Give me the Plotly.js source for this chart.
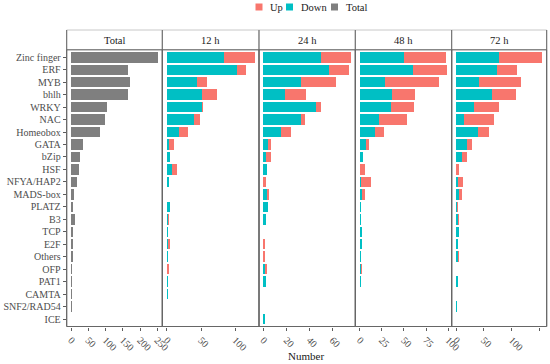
<!DOCTYPE html>
<html>
<head>
<meta charset="utf-8">
<script src="https://cdn.plot.ly/plotly-3.0.1.min.js"></script>
<style>html,body{margin:0;padding:0;background:#fff;}#chart{width:550px;height:364px;}</style>
</head>
<body>
<div id="chart"></div>
<script>
// ---- data ----
const categories = ["Zinc finger","ERF","MYB","bhlh","WRKY","NAC","Homeobox","GATA","bZip","HSF","NFYA/HAP2","MADS-box","PLATZ","B3","TCP","E2F","Others","OFP","PAT1","CAMTA","SNF2/RAD54","ICE"];
const totalCount = [252,166,171,166,104,97,85,35,25,22,18,10,6,11,6,6,7,2,2,3,2,1];
const down12 = [83,102,44,51,52,40,18,4,5,7,3,1,5,2,2,2,2,1,2,2,0,1];
const up12   = [45,14,15,22,1,8,13,7,0,8,1,0,0,2,0,3,0,2,0,0,0,0];
const down24 = [50,57,33,19,46,33,15,4,2,3,0,3,4,2,0,0,0,1,2,0,0,1];
const up24   = [26,17,30,18,4,3,9,3,5,0,2,2,0,0,0,1,1,2,0,0,0,0];
const down48 = [50,60,29,37,35,22,17,7,4,0,2,3,1,1,3,3,1,1,2,0,0,0];
const up48   = [47,39,61,25,26,31,11,4,0,6,11,3,1,1,0,0,1,2,0,0,0,0];
const down72 = [77,73,41,65,33,15,39,19,11,0,3,5,1,3,5,3,3,0,3,0,1,0];
const up72   = [78,37,76,43,44,54,21,10,8,6,10,5,2,3,0,0,3,0,0,0,1,0];
const panelTitles = ["Total","12 h","24 h","48 h","72 h"];
const tickSets = [[0,50,100,150,200,250],[0,50,100],[0,20,40,60],[0,25,50,75,100],[0,50,100,150]];
const legendNames = ["Up","Down","Total"];

// ---- styling ----
const colUp = "#F8766D", colDown = "#00BFC4", colTotal = "#7F7F7F";
const FONT = "Liberation Serif";
const W = 550, H = 364;
const px = x => x / W, py = y => 1 - y / H;
const edges = [66.7, 162.3, 259, 355.3, 451.7, 546.7];
const plotTop = 49.8, plotBot = 326.5, stripTop = 30;

const timeDown = [down12, down24, down48, down72];
const timeUp = [up12, up24, up48, up72];

const traces = [];
traces.push({type:"bar", orientation:"h", y:categories, x:totalCount, xaxis:"x", yaxis:"y",
  marker:{color:colTotal}, name:"Total", showlegend:false, hoverinfo:"x+y"});
for (let i = 0; i < 4; i++) {
  const ax = String(i + 2);
  traces.push({type:"bar", orientation:"h", y:categories, x:timeDown[i], xaxis:"x"+ax, yaxis:"y"+ax,
    marker:{color:colDown}, name:"Down", showlegend:false});
  traces.push({type:"bar", orientation:"h", y:categories, x:timeUp[i], xaxis:"x"+ax, yaxis:"y"+ax,
    marker:{color:colUp}, name:"Up", showlegend:false});
}

function xRange(vals) {
  const m = Math.max(...vals);
  return [-0.05 * m, 1.05 * m];
}
const panelMax = [totalCount];
for (let i = 0; i < 4; i++) panelMax.push(timeDown[i].map((d, k) => d + timeUp[i][k]));

const layout = {
  width: W, height: H,
  margin: {l:0, r:0, t:0, b:0},
  paper_bgcolor: "#fff", plot_bgcolor: "#fff",
  barmode: "stack", bargap: 0.16,
  showlegend: false,
  font: {family: FONT, color: "#4d4d4d", size: 10},
  shapes: [], annotations: []
};

const yDomain = [py(plotBot), py(plotTop)];
for (let i = 0; i < 5; i++) {
  const s = i === 0 ? "" : String(i + 1);
  layout["xaxis" + s] = {
    domain: [px(edges[i]), px(edges[i + 1])],
    anchor: "y" + s,
    range: xRange(panelMax[i]),
    tickvals: tickSets[i], ticktext: tickSets[i].map(String),
    ticks: "outside", ticklen: 3, tickcolor: "#333", tickwidth: 0.8,
    tickangle: 45, tickfont: {family: FONT, size: 10, color: "#4d4d4d"},
    showgrid: false, zeroline: false, showline: false, fixedrange: true
  };
  const ya = {
    domain: yDomain, anchor: "x" + s, type: "category",
    categoryorder: "array", categoryarray: categories,
    range: [categories.length - 0.4, -0.6],
    showgrid: false, zeroline: false, showline: false, fixedrange: true
  };
  if (i === 0) {
    Object.assign(ya, {ticks: "outside", ticklen: 3, tickcolor: "#333", tickwidth: 0.8,
      tickfont: {family: FONT, size: 10, color: "#4d4d4d"}});
  } else {
    Object.assign(ya, {matches: "y", showticklabels: false, ticks: ""});
  }
  layout["yaxis" + s] = ya;

  // strip header
  layout.shapes.push({type:"rect", xref:"paper", yref:"paper",
    x0: px(edges[i]), x1: px(edges[i + 1]), y0: py(plotTop), y1: py(stripTop),
    line:{color:"#c8c8c8", width:1}, fillcolor:"#fff", layer:"below"});
  layout.annotations.push({xref:"paper", yref:"paper", x: px((edges[i] + edges[i + 1]) / 2), y: py(40),
    text: panelTitles[i], showarrow:false, xanchor:"center", yanchor:"middle",
    font:{family: FONT, size: 10.5, color:"#1a1a1a"}});
  // panel border
  layout.shapes.push({type:"rect", xref:"paper", yref:"paper",
    x0: px(edges[i]), x1: px(edges[i + 1]), y0: py(plotBot), y1: py(plotTop),
    line:{color:"#666", width:1}, fillcolor:"rgba(0,0,0,0)", layer:"above"});
}
// dark vertical separators through strips
for (let i = 0; i < edges.length; i++) {
  layout.shapes.push({type:"line", xref:"paper", yref:"paper",
    x0: px(edges[i]), x1: px(edges[i]), y0: py(plotBot), y1: py(stripTop),
    line:{color:"#666", width:1}, layer:"above"});
}

// x axis title
layout.annotations.push({xref:"paper", yref:"paper", x: px(306), y: py(356),
  text:"Number", showarrow:false, xanchor:"center", yanchor:"middle",
  font:{family: FONT, size: 11, color:"#1a1a1a"}});

// legend (keys + labels)
const legendCols = [colUp, colDown, colTotal];
const keyX = [255.5, 286, 331];
const textX = [268, 299, 344];
for (let i = 0; i < 3; i++) {
  layout.shapes.push({type:"rect", xref:"paper", yref:"paper",
    x0: px(keyX[i]), x1: px(keyX[i] + 7), y0: py(10.5), y1: py(3.5),
    line:{width:0}, fillcolor: legendCols[i]});
  layout.annotations.push({xref:"paper", yref:"paper", x: px(textX[i]), y: py(7),
    text: legendNames[i], showarrow:false, xanchor:"left", yanchor:"middle",
    font:{family: FONT, size: 10.5, color:"#1a1a1a"}});
}

Plotly.newPlot("chart", traces, layout, {displayModeBar:false, staticPlot:true});
</script>
</body>
</html>
